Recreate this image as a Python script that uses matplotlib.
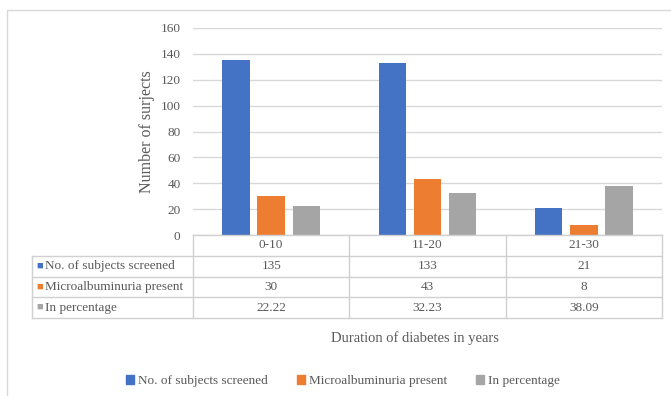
import numpy as np
import matplotlib.pyplot as plt
from matplotlib.patches import Rectangle

categories = ['0-10', '11-20', '21-30']
series_names = ['No. of subjects screened', 'Microalbuminuria present', 'In percentage']
screened = [135, 133, 21]
micro = [30, 43, 8]
percent = [22.22, 32.23, 38.09]
table_text = [['135', '133', '21'], ['30', '43', '8'], ['22.22', '32.23', '38.09']]
yticks = [0, 20, 40, 60, 80, 100, 120, 140, 160]

colors = ['#4472C4', '#ED7D31', '#A5A5A5']
grid_c = '#D9D9D9'
txt_c = '#595959'
plt.rcParams['font.family'] = ['Liberation Serif', 'DejaVu Serif']

W, H = 671, 396
fig = plt.figure(figsize=(W / 100, H / 100), dpi=100)

def fx(px):
    return px / W

def fy(py):
    return 1 - py / H

# outer chart border
fig.patches.append(Rectangle((fx(7), fy(400)), fx(700), fy(10) - fy(400), transform=fig.transFigure,
                             fill=False, edgecolor=grid_c, lw=1))

left, right, top, bottom = 193, 662, 28, 235
ax = fig.add_axes([fx(left), fy(bottom), fx(right - left), fy(top) - fy(bottom)])
x = np.arange(len(categories))
w = 0.175
for i, vals in enumerate([screened, micro, percent]):
    ax.bar(x + (i - 1) * 0.225, vals, w, color=colors[i], zorder=3)
ax.set_xlim(-0.5, 2.5)
ax.set_ylim(0, 160)
ax.set_yticks(yticks)
ax.yaxis.grid(True, color=grid_c, lw=1, zorder=0)
ax.tick_params(axis='y', length=0, labelsize=9.5, labelcolor=txt_c, pad=9)
ax.set_xticks([])
for s in ax.spines.values():
    s.set_visible(False)
ax.set_ylabel('Number of surjects', fontsize=11.5, color=txt_c, labelpad=4)

# data table below the plot
ppu = (right - left) / 3
tl, tb = 32, 318
tab = fig.add_axes([fx(tl), fy(tb), fx(right - tl), fy(bottom) - fy(tb)])
xl = -0.5 - (left - tl) / ppu
tab.set_xlim(xl, 2.5)
tab.set_ylim(4, 0)
tab.axis('off')
lc = '#D0D0D0'
# horizontal lines
tab.plot([-0.5, 2.5], [0, 0], color=lc, lw=1, clip_on=False)
for r in range(1, 5):
    tab.plot([xl, 2.5], [r, r], color=lc, lw=1, clip_on=False)
# vertical lines
tab.plot([xl, xl], [1, 4], color=lc, lw=1, clip_on=False)
for c in range(4):
    tab.plot([c - 0.5, c - 0.5], [0, 4], color=lc, lw=1, clip_on=False)
for c, cat in enumerate(categories):
    tab.text(c, 0.5, cat, ha='center', va='center', fontsize=9.5, color=txt_c)
for r in range(3):
    tab.text(xl + 0.03, r + 1.5, '\u25A0', ha='left', va='center', fontsize=8, color=colors[r])
    tab.text(xl + 0.085, r + 1.5, series_names[r], ha='left', va='center', fontsize=9.5, color=txt_c)
    for c in range(3):
        tab.text(c, r + 1.5, table_text[r][c], ha='center', va='center', fontsize=9.5, color=txt_c)

fig.text(fx(415), fy(338), 'Duration of diabetes in years', ha='center', va='center',
         fontsize=10.5, color=txt_c)

handles = [Rectangle((0, 0), 1, 1, color=c) for c in colors]
leg = fig.legend(handles, series_names, loc='center', bbox_to_anchor=(fx(343), fy(381)), ncol=3,
                 frameon=False, fontsize=9.5, handlelength=0.6, handleheight=0.6, handletextpad=0.3,
                 columnspacing=2.2)
for t in leg.get_texts():
    t.set_color(txt_c)

fig.savefig('out.png', dpi=100)
